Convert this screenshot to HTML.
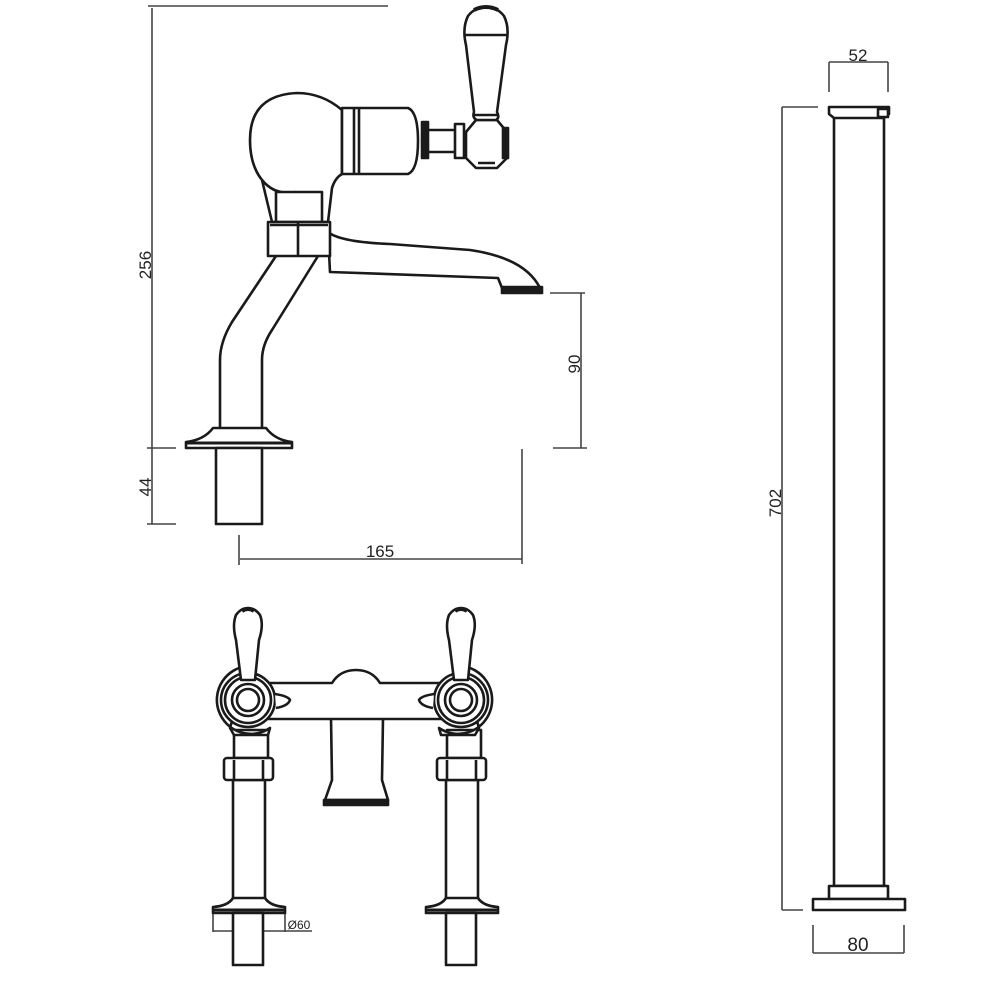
<!DOCTYPE html>
<html><head><meta charset="utf-8"><style>
html,body{margin:0;padding:0;background:#fff;width:1000px;height:1000px;overflow:hidden}
svg{display:block}
text{font-family:"Liberation Sans",sans-serif;fill:#222}
</style></head><body>
<svg width="1000" height="1000" viewBox="0 0 1000 1000" xmlns="http://www.w3.org/2000/svg">
<g fill="none" stroke="#444" stroke-width="1.6">
  <line x1="148" y1="6" x2="388" y2="6"/>
  <line x1="152" y1="8" x2="152" y2="524"/>
  <line x1="147" y1="448" x2="176" y2="448"/>
  <line x1="147" y1="524" x2="176" y2="524"/>
  <line x1="239" y1="535" x2="239" y2="565"/>
  <line x1="522" y1="449" x2="522" y2="564"/>
  <line x1="240" y1="559" x2="522" y2="559"/>
  <line x1="581" y1="293" x2="581" y2="448"/>
  <line x1="550" y1="293" x2="585" y2="293"/>
  <line x1="553" y1="448" x2="587" y2="448"/>
  <line x1="213" y1="912" x2="213" y2="932"/>
  <line x1="285" y1="912" x2="285" y2="932"/>
  <line x1="213" y1="931" x2="312" y2="931"/>
  <line x1="829" y1="62" x2="829" y2="92"/>
  <line x1="888" y1="62" x2="888" y2="92"/>
  <line x1="829" y1="62" x2="888" y2="62"/>
  <line x1="782" y1="107" x2="782" y2="910"/>
  <line x1="782" y1="107" x2="818" y2="107"/>
  <line x1="782" y1="910" x2="803" y2="910"/>
  <line x1="813" y1="925" x2="813" y2="953"/>
  <line x1="904" y1="925" x2="904" y2="953"/>
  <line x1="813" y1="953" x2="904" y2="953"/>
</g>
<text x="152" y="278" font-size="17" text-anchor="middle" transform="rotate(-90 145 272)">256</text>
<text x="145" y="493" font-size="17" text-anchor="middle" transform="rotate(-90 145 487)">44</text>
<text x="380" y="557" font-size="17" text-anchor="middle">165</text>
<text x="580" y="376" font-size="17" text-anchor="middle" transform="rotate(-90 574 370)">90</text>
<text x="299" y="929" font-size="12" text-anchor="middle">Ø60</text>
<text x="858" y="61" font-size="17" text-anchor="middle">52</text>
<text x="782" y="516" font-size="17" text-anchor="middle" transform="rotate(-90 775 510)">702</text>
<text x="858" y="951" font-size="19" text-anchor="middle">80</text>

<g fill="#fff" stroke="#1a1a1a" stroke-width="2.6" stroke-linejoin="round">
  <!-- SIDE VIEW -->
  <path d="M276 256 L232 322 Q220 342 220 360 L220 430 M318 256 L272 330 Q262 345 262 360 L262 430" fill="none"/>
  <path d="M328 232 Q340 242 390 244 L470 250 Q525 258 540 288 L502 288 L498 278 L330 272 Z"/>
  <rect x="502" y="287" width="40" height="6" fill="#1a1a1a"/>
  <!-- ball + neck -->
  <path d="M342 110 Q322 93 297 93 Q250 95 250 140 Q250 165 262 180 L272 222 L328 222 L332 188 Q335 178 342 174 Z"/>
  <path d="M262 180 Q275 196 296 192" fill="none"/>
  <rect x="276" y="192" width="46" height="30"/>
  <rect x="268" y="222" width="62" height="34"/>
  <line x1="298" y1="222" x2="298" y2="256"/>
  <line x1="270" y1="225" x2="328" y2="225"/>
  <path d="M342 108 L408 108 Q418 112 418 141 Q418 170 408 174 L342 174 Z"/>
  <line x1="354" y1="107" x2="354" y2="175"/><line x1="359" y1="107" x2="359" y2="175"/>
  <rect x="422" y="122" width="6" height="36" fill="#1a1a1a"/>
  <rect x="428" y="130" width="28" height="22"/>
  <rect x="455" y="124" width="9" height="34"/>
  <path d="M476 120 L497 120 L507 132 L507 158 L497 168 L476 168 L466 158 L466 132 Z"/>
  <rect x="503" y="128" width="5" height="30" fill="#1a1a1a"/>
  <line x1="478" y1="163" x2="495" y2="163"/>
  <path d="M474 112 L466 45 Q462 28 468 16 Q475 7 486 7 Q497 7 504 16 Q510 28 506 45 L497 112 Q500 118 496 120 L477 120 Q472 118 474 112 Z"/>
  <line x1="465" y1="35" x2="507" y2="35"/>
  <line x1="474" y1="115" x2="497" y2="115"/>
  <path d="M474 10 Q486 4 498 10" stroke-width="4"/>
  <path d="M213 428 L266 428 Q275 440 292 442 L292 448 L186 448 L186 442 Q204 440 213 428 Z"/>
  <line x1="186" y1="443" x2="292" y2="443" stroke-width="3"/>
  <rect x="216" y="448" width="46" height="76"/>

  <!-- PILLAR -->
  <rect x="834" y="115" width="50" height="771"/>
  <path d="M829 107 L889 107 L889 114 L884 118 L834 118 L829 114 Z"/>
  <rect x="878" y="109" width="10" height="8"/>
  <path d="M836 886 L834 892 L888 892 L886 886 Z"/>
  <rect x="829" y="886" width="59" height="13"/>
  <rect x="813" y="899" width="92" height="11"/>

  <!-- FRONT VIEW -->
  <g>
    <rect x="233" y="780" width="32" height="120"/>
    <path d="M233 898 L265 898 Q270 906 285 907 L285 913 L213 913 L213 907 Q228 906 233 898 Z"/>
    <line x1="213" y1="910" x2="285" y2="910" stroke-width="3"/>
    <rect x="233" y="913" width="30" height="52"/>
    <rect x="234" y="730" width="34" height="28"/>
    <rect x="224" y="758" width="49" height="22" rx="3"/>
    <line x1="234" y1="760" x2="234" y2="780"/><line x1="263" y1="760" x2="263" y2="780"/>
  </g>
  <g transform="translate(213 0)">
    <rect x="233" y="780" width="32" height="120"/>
    <path d="M233 898 L265 898 Q270 906 285 907 L285 913 L213 913 L213 907 Q228 906 233 898 Z"/>
    <line x1="213" y1="910" x2="285" y2="910" stroke-width="3"/>
    <rect x="233" y="913" width="30" height="52"/>
    <rect x="234" y="730" width="34" height="28"/>
    <rect x="224" y="758" width="49" height="22" rx="3"/>
    <line x1="234" y1="760" x2="234" y2="780"/><line x1="263" y1="760" x2="263" y2="780"/>
  </g>
  <path d="M331 718 L332 780 L325 800 L388 800 L382 780 L383 718 Z"/>
  <rect x="324" y="800" width="64" height="5" fill="#1a1a1a"/>
  <path d="M262 683 L332 683 Q340 670 356 670 Q372 670 380 683 L450 683 L450 719 L262 719 Z"/>
  <path d="M248 666 A34 34 0 1 0 270 728 L268 735 L234 735 L230 728 Z"/>
  <path d="M461 666 A34 34 0 1 1 439 728 L441 735 L475 735 L479 728 Z"/>
  <circle cx="248" cy="700" r="27"/><circle cx="248" cy="700" r="23"/>
  <circle cx="248" cy="700" r="16"/><circle cx="248" cy="700" r="11"/>
  <circle cx="461" cy="700" r="27"/><circle cx="461" cy="700" r="23"/>
  <circle cx="461" cy="700" r="16"/><circle cx="461" cy="700" r="11"/>
  <path d="M275 694 Q288 696 290 700 Q288 706 276 708"/>
  <path d="M434 694 Q421 696 419 700 Q421 706 433 708"/>
  <path d="M241 680 L236 640 Q232 625 236 615 Q241 608 248 608 Q255 608 260 615 Q264 625 259 640 L255 680 Z"/>
  <path d="M454 680 L449 640 Q445 625 449 615 Q454 608 461 608 Q468 608 473 615 Q477 625 472 640 L468 680 Z"/>
  <path d="M242 611 Q248 607 254 611 M455 611 Q461 607 467 611" stroke-width="4"/>
</g>
</svg>
</body></html>
